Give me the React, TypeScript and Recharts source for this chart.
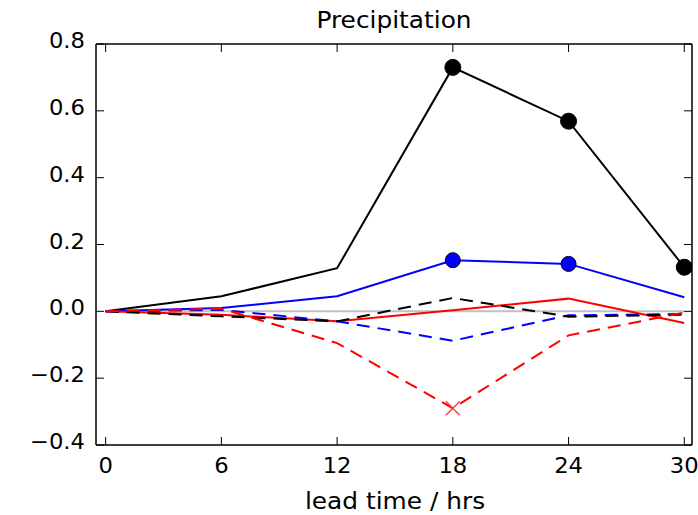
import { LineChart, Line, XAxis, YAxis } from 'recharts'

// lead time in hours
const leadTimes = [0, 6, 12, 18, 24, 30]

// series values
const blackSolid = [0, 0.045, 0.129, 0.73, 0.569, 0.132]
const blueSolid = [0, 0.01, 0.045, 0.153, 0.142, 0.042]
const redSolid = [0, -0.01, -0.03, 0.003, 0.038, -0.035]
const blackDashed = [0, -0.015, -0.03, 0.04, -0.016, -0.01]
const blueDashed = [0, 0.004, -0.03, -0.088, -0.012, -0.008]
const redDashed = [0, 0.008, -0.095, -0.29, -0.072, -0.004]
const zeroLine = [0, 0, 0, 0, 0, 0]

// hours that carry a marker
const blackMarked = [18, 24, 30]
const blueMarked = [18, 24]
const redDashedMarked = [18]

const xTicks = [0, 6, 12, 18, 24, 30]
const yTicks = [-0.4, -0.2, 0, 0.2, 0.4, 0.6, 0.8]

const data = leadTimes.map((hour, i) => ({
  hour,
  zero: zeroLine[i],
  blackSolid: blackSolid[i],
  blueSolid: blueSolid[i],
  redSolid: redSolid[i],
  blackDashed: blackDashed[i],
  blueDashed: blueDashed[i],
  redDashed: redDashed[i],
}))

const FONT = '"DejaVu Sans", sans-serif'
const TICK_LEN = 8
const STRETCH = 1.08 // the source image is a little wider than tall
const frame = { stroke: '#000', strokeWidth: 1.5 }

const fmtY = (v: number) => v.toFixed(1).replace('-', '\u2212')

// text drawn at (x, y) and stretched sideways about that point
const Label = ({ x, y, size, anchor, children }: any) => (
  <text
    transform={`translate(${x},${y}) scale(${STRETCH},1)`}
    textAnchor={anchor}
    fontSize={size}
    fontFamily={FONT}
    fill="#000"
  >
    {children}
  </text>
)

const BottomTick = ({ x, y, payload }: any) => (
  <g>
    <line x1={x} x2={x} y1={y} y2={y - TICK_LEN} stroke="#000" strokeWidth={1} />
    <Label x={x} y={y + 28} size={21} anchor="middle">{payload.value}</Label>
  </g>
)

const TopTick = ({ x, y }: any) => (
  <line x1={x} x2={x} y1={y} y2={y + TICK_LEN} stroke="#000" strokeWidth={1} />
)

const LeftTick = ({ x, y, payload }: any) => (
  <g>
    <line x1={x} x2={x + TICK_LEN} y1={y} y2={y} stroke="#000" strokeWidth={1} />
    <Label x={x - 11} y={y + 4} size={21} anchor="end">{fmtY(payload.value)}</Label>
  </g>
)

const RightTick = ({ x, y }: any) => (
  <line x1={x} x2={x - TICK_LEN} y1={y} y2={y} stroke="#000" strokeWidth={1} />
)

const circleDot = (marked: number[], fill: string, r: number) => (props: any) => {
  const { cx, cy, payload, index } = props
  if (!marked.includes(payload.hour)) return <g key={index} />
  return <circle key={index} cx={cx} cy={cy} r={r} fill={fill} stroke="#000" strokeWidth={1} />
}

const crossDot = (marked: number[], color: string) => (props: any) => {
  const { cx, cy, payload, index } = props
  if (!marked.includes(payload.hour)) return <g key={index} />
  const s = 7
  return (
    <g key={index} stroke={color} strokeWidth={1.5}>
      <line x1={cx - s} y1={cy - s} x2={cx + s} y2={cy + s} />
      <line x1={cx - s} y1={cy + s} x2={cx + s} y2={cy - s} />
    </g>
  )
}

export default function App() {
  return (
    <div style={{ position: 'absolute', left: 0, top: 0, width: 698, height: 515, background: '#fff' }}>
      <LineChart width={698} height={515} data={data} margin={{ top: 43, right: 5, bottom: 0, left: 0 }}>
        <XAxis
          dataKey="hour"
          type="number"
          domain={[-0.5, 30.4]}
          allowDataOverflow
          ticks={xTicks}
          height={70}
          tickSize={0}
          tickMargin={0}
          tickLine={false}
          axisLine={frame}
          tick={<BottomTick />}
        />
        <XAxis
          xAxisId="top"
          orientation="top"
          dataKey="hour"
          type="number"
          domain={[-0.5, 30.4]}
          allowDataOverflow
          ticks={xTicks}
          height={1}
          tickSize={0}
          tickMargin={0}
          tickLine={false}
          axisLine={frame}
          tick={<TopTick />}
        />
        <YAxis
          type="number"
          domain={[-0.4, 0.8]}
          allowDataOverflow
          ticks={yTicks}
          width={96}
          tickSize={0}
          tickMargin={0}
          tickLine={false}
          axisLine={frame}
          tick={<LeftTick />}
        />
        <YAxis
          yAxisId="right"
          orientation="right"
          type="number"
          domain={[-0.4, 0.8]}
          allowDataOverflow
          ticks={yTicks}
          width={1}
          tickSize={0}
          tickMargin={0}
          tickLine={false}
          axisLine={frame}
          tick={<RightTick />}
        />
        <Line dataKey="zero" stroke="#c0c0c0" strokeWidth={2} dot={false} isAnimationActive={false} />
        <Line dataKey="blackSolid" stroke="#000" strokeWidth={2} dot={circleDot(blackMarked, '#000', 8)} isAnimationActive={false} />
        <Line dataKey="blueSolid" stroke="#0000ff" strokeWidth={2} dot={circleDot(blueMarked, '#0000ff', 7.5)} isAnimationActive={false} />
        <Line dataKey="redSolid" stroke="#ff0000" strokeWidth={2} dot={false} isAnimationActive={false} />
        <Line dataKey="blueDashed" stroke="#0000ff" strokeWidth={2} strokeDasharray="13 8" dot={false} isAnimationActive={false} />
        <Line dataKey="blackDashed" stroke="#000" strokeWidth={2} strokeDasharray="13 8" dot={false} isAnimationActive={false} />
        <Line dataKey="redDashed" stroke="#ff0000" strokeWidth={2} strokeDasharray="13 8" dot={crossDot(redDashedMarked, '#ff4040')} isAnimationActive={false} />
      </LineChart>
      <svg width={698} height={515} style={{ position: 'absolute', left: 0, top: 0, pointerEvents: 'none' }}>
        <Label x={394} y={28} size={23} anchor="middle">Precipitation</Label>
        <Label x={395} y={509} size={23} anchor="middle">lead time / hrs</Label>
      </svg>
    </div>
  )
}
